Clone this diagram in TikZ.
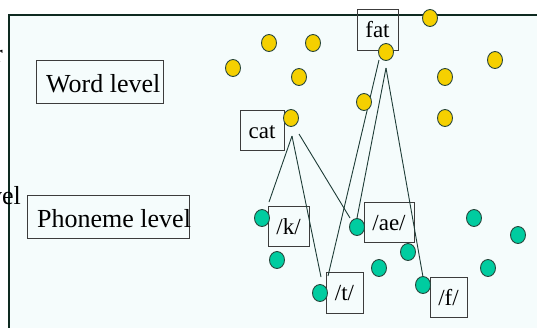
\documentclass[tikz,border=0pt]{standalone}
\usepackage{fontspec}
\setmainfont{Liberation Serif}
\usetikzlibrary{shapes.geometric}
\definecolor{panelbg}{RGB}{245,252,252}
\definecolor{panelline}{RGB}{14,42,32}
\definecolor{dotyellow}{RGB}{245,208,0}
\definecolor{dotteal}{RGB}{0,204,160}
\definecolor{dotline}{RGB}{40,70,60}
\definecolor{boxline}{RGB}{60,60,60}
\definecolor{linkline}{RGB}{30,60,55}
\tikzset{
  ydot/.style={ellipse, draw=dotline, line width=0.9pt, fill=dotyellow, minimum width=15pt, minimum height=17pt, inner sep=0pt},
  tdot/.style={ellipse, draw=dotline, line width=0.9pt, fill=dotteal, minimum width=15pt, minimum height=17pt, inner sep=0pt},
  lblbox/.style={draw=boxline, line width=1pt, inner sep=0pt, font=\fontsize{23}{26}\selectfont, text height=16pt, text depth=0pt},
  levelbox/.style={draw=boxline, line width=1pt, inner sep=0pt},
  leveltext/.style={inner sep=0pt, font=\fontsize{26}{30}\selectfont},
  link/.style={draw=linkline, line width=0.9pt},
  frameline/.style={draw=panelline, line width=2.5pt}
}
\begin{document}
\begin{tikzpicture}[x=1pt,y=-1pt]
\useasboundingbox (0,0) rectangle (537,327);
% panel
\fill[panelbg] (9,15) rectangle (540,330);
\draw[frameline] (8,15) -- (540,15);
\draw[frameline] (9,14) -- (9,330);
% fragments of outside text
\node[leveltext, anchor=base east] (frag1) at (3,62) {r};
\node[leveltext, anchor=base east] (frag2) at (21,204) {level};
% level boxes
\node[levelbox, minimum width=127pt, minimum height=43pt] (wlbox) at (99.5,81.5) {};
\node[leveltext, anchor=base west] (wltext) at (46,92) {Word level};
\node[levelbox, minimum width=162pt, minimum height=43pt] (plbox) at (108,216.5) {};
\node[leveltext, anchor=base west] (pltext) at (37,227) {Phoneme level};
% label boxes
\node[lblbox, minimum width=41pt, minimum height=41pt] (fat) at (377.5,29.5) {fat};
\node[lblbox, minimum width=44pt, minimum height=40pt] (cat) at (262,130) {cat};
\node[lblbox, minimum width=41pt, minimum height=40pt] (k) at (288.5,226) {/k/};
\node[lblbox, minimum width=50pt, minimum height=40pt] (ae) at (389,222) {/ae/};
\node[lblbox, minimum width=37pt, minimum height=41pt] (t) at (344.5,292.5) {/t/};
\node[lblbox, minimum width=37pt, minimum height=40pt] (f) at (448.5,297) {/f/};
% connector end points
\coordinate (catL) at (292,136);
\coordinate (catR) at (299,134);
\coordinate (fatL) at (379,60);
\coordinate (fatA) at (386,68);
\coordinate (kEnd) at (269,202);
\coordinate (tEndA) at (321,277);
\coordinate (tEndB) at (328,276);
\coordinate (aeEndA) at (350,218);
\coordinate (aeEndB) at (357,218);
\coordinate (fEnd) at (423,277);
\draw[link] (catL) -- (kEnd);
\draw[link] (catL) -- (tEndA);
\draw[link] (catR) -- (aeEndA);
\draw[link] (fatL) -- (tEndB);
\draw[link] (fatA) -- (aeEndB);
\draw[link] (fatA) -- (fEnd);
% yellow dots (word units)
\node[ydot] (y1) at (269,43) {};
\node[ydot] (y2) at (313,43) {};
\node[ydot] (y3) at (233,68) {};
\node[ydot] (y4) at (299,77) {};
\node[ydot] (y5) at (430,18) {};
\node[ydot] (y6) at (386,52) {};
\node[ydot] (y7) at (495,60) {};
\node[ydot] (y8) at (445,77) {};
\node[ydot] (y9) at (364,102) {};
\node[ydot] (y10) at (291,118) {};
\node[ydot] (y11) at (445,118) {};
% teal dots (phoneme units)
\node[tdot] (t1) at (262,218) {};
\node[tdot] (t2) at (277,260) {};
\node[tdot] (t3) at (357,227) {};
\node[tdot] (t4) at (408,252) {};
\node[tdot] (t5) at (379,268) {};
\node[tdot] (t6) at (320,293) {};
\node[tdot] (t7) at (423,285) {};
\node[tdot] (t8) at (474,218) {};
\node[tdot] (t9) at (518,235) {};
\node[tdot] (t10) at (488,268) {};
\end{tikzpicture}
\end{document}
